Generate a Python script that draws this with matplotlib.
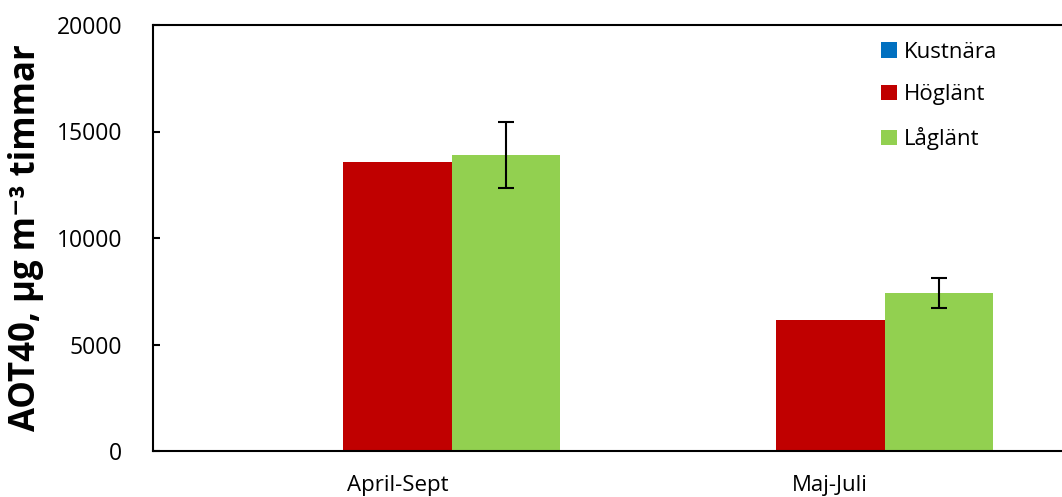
import matplotlib
matplotlib.use("Agg")
import matplotlib.pyplot as plt
import numpy as np

categories = ["April-Sept", "Maj-Juli"]
series = ["Kustnära", "Höglänt", "Låglänt"]
kustnara = [0, 0]
hoglant = [13580, 6150]
laglant = [13880, 7420]
laglant_err = [1550, 700]
colors = ["#0070C0", "#C00000", "#92D050"]

plt.rcParams['font.family'] = ['Open Sans', 'DejaVu Sans']

fig = plt.figure(figsize=(10.62, 4.97), dpi=100)
ax = fig.add_axes([153/1062, 46/497, 1 - 153/1062 + 0.01, 426/497])

x = np.arange(len(categories))
w = 0.251
values = [kustnara, hoglant, laglant]
for i, (name, vals, c) in enumerate(zip(series, values, colors)):
    ax.bar(x + (i - 1) * w, vals, width=w, color=c, label=name, linewidth=0)

ax.errorbar(x + w, laglant, yerr=laglant_err, fmt='none', ecolor='black',
            elinewidth=1.5, capsize=5.5, capthick=1.5)

ax.set_xlim(-0.565, 1.56)
ax.set_ylim(0, 20000)
ax.set_yticks([0, 5000, 10000, 15000, 20000])
ax.set_xticks(x)
ax.set_xticklabels(categories, fontsize=16)
ax.tick_params(axis='x', length=0, pad=17)
ax.tick_params(axis='y', direction='in', length=5, width=1.5, labelsize=16.5, pad=22)

for s in ['left', 'bottom', 'top']:
    ax.spines[s].set_linewidth(1.5)
    ax.spines[s].set_color('black')
ax.spines['right'].set_visible(False)

ax.set_ylabel("AOT40, µg m\u207b\u00b3 timmar", fontsize=25, fontweight='bold', labelpad=9)

ax.legend(loc='upper left', bbox_to_anchor=(0.792, 0.961), frameon=False, fontsize=16,
          borderaxespad=0, borderpad=0,
          handlelength=0.7, handleheight=0.7, handletextpad=0.3, labelspacing=0.98)

fig.savefig("out.png", dpi=100)
